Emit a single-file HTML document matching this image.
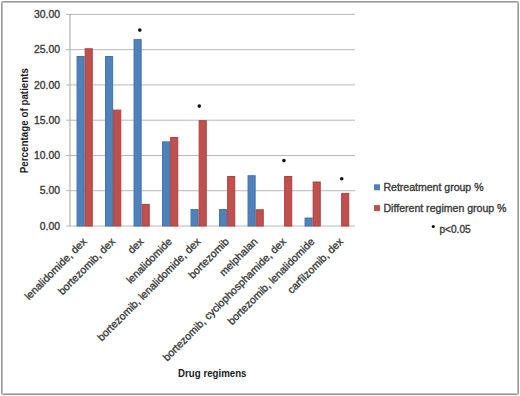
<!DOCTYPE html>
<html><head><meta charset="utf-8"><style>
html,body{margin:0;padding:0;background:#fff;width:520px;height:396px;overflow:hidden}
svg{display:block;font-family:"Liberation Sans",sans-serif}
text{stroke:currentColor;stroke-width:0.35px}
</style></head><body>
<svg width="520" height="396" viewBox="0 0 520 396">
<rect width="520" height="396" fill="#fff"/>
<line x1="70.0" y1="190.73" x2="355" y2="190.73" stroke="#b8b8b8" stroke-width="1"/>
<line x1="70.0" y1="155.47" x2="355" y2="155.47" stroke="#b8b8b8" stroke-width="1"/>
<line x1="70.0" y1="120.20" x2="355" y2="120.20" stroke="#b8b8b8" stroke-width="1"/>
<line x1="70.0" y1="84.93" x2="355" y2="84.93" stroke="#b8b8b8" stroke-width="1"/>
<line x1="70.0" y1="49.67" x2="355" y2="49.67" stroke="#b8b8b8" stroke-width="1"/>
<line x1="70.0" y1="14.40" x2="355" y2="14.40" stroke="#b8b8b8" stroke-width="1"/>
<line x1="70.0" y1="14" x2="70.0" y2="226.5" stroke="#a4a4a4" stroke-width="1"/>
<line x1="70.0" y1="226.0" x2="355" y2="226.0" stroke="#b8b8b8" stroke-width="1"/>
<line x1="66" y1="226.00" x2="70.0" y2="226.00" stroke="#b8b8b8" stroke-width="1"/>
<line x1="66" y1="190.73" x2="70.0" y2="190.73" stroke="#b8b8b8" stroke-width="1"/>
<line x1="66" y1="155.47" x2="70.0" y2="155.47" stroke="#b8b8b8" stroke-width="1"/>
<line x1="66" y1="120.20" x2="70.0" y2="120.20" stroke="#b8b8b8" stroke-width="1"/>
<line x1="66" y1="84.93" x2="70.0" y2="84.93" stroke="#b8b8b8" stroke-width="1"/>
<line x1="66" y1="49.67" x2="70.0" y2="49.67" stroke="#b8b8b8" stroke-width="1"/>
<line x1="66" y1="14.40" x2="70.0" y2="14.40" stroke="#b8b8b8" stroke-width="1"/>
<rect x="77.05" y="56.51" width="7.10" height="169.49" fill="#4F81BD" stroke="#4472a8" stroke-width="1"/>
<rect x="85.15" y="48.76" width="7.10" height="177.24" fill="#C0504D" stroke="#a8423f" stroke-width="1"/>
<rect x="105.55" y="56.51" width="7.10" height="169.49" fill="#4F81BD" stroke="#4472a8" stroke-width="1"/>
<rect x="113.65" y="110.12" width="7.10" height="115.88" fill="#C0504D" stroke="#a8423f" stroke-width="1"/>
<rect x="134.05" y="39.59" width="7.10" height="186.41" fill="#4F81BD" stroke="#4472a8" stroke-width="1"/>
<rect x="142.15" y="204.35" width="7.10" height="21.65" fill="#C0504D" stroke="#a8423f" stroke-width="1"/>
<rect x="162.55" y="141.86" width="7.10" height="84.14" fill="#4F81BD" stroke="#4472a8" stroke-width="1"/>
<rect x="170.65" y="137.49" width="7.10" height="88.51" fill="#C0504D" stroke="#a8423f" stroke-width="1"/>
<rect x="191.05" y="209.57" width="7.10" height="16.43" fill="#4F81BD" stroke="#4472a8" stroke-width="1"/>
<rect x="199.15" y="120.70" width="7.10" height="105.30" fill="#C0504D" stroke="#a8423f" stroke-width="1"/>
<rect x="219.55" y="209.57" width="7.10" height="16.43" fill="#4F81BD" stroke="#4472a8" stroke-width="1"/>
<rect x="227.65" y="176.56" width="7.10" height="49.44" fill="#C0504D" stroke="#a8423f" stroke-width="1"/>
<rect x="248.05" y="175.72" width="7.10" height="50.28" fill="#4F81BD" stroke="#4472a8" stroke-width="1"/>
<rect x="256.15" y="209.78" width="7.10" height="16.22" fill="#C0504D" stroke="#a8423f" stroke-width="1"/>
<rect x="284.65" y="176.56" width="7.10" height="49.44" fill="#C0504D" stroke="#a8423f" stroke-width="1"/>
<rect x="305.05" y="218.04" width="7.10" height="7.96" fill="#4F81BD" stroke="#4472a8" stroke-width="1"/>
<rect x="313.15" y="181.99" width="7.10" height="44.01" fill="#C0504D" stroke="#a8423f" stroke-width="1"/>
<rect x="341.65" y="193.42" width="7.10" height="32.58" fill="#C0504D" stroke="#a8423f" stroke-width="1"/>
<text x="60" y="229.70" text-anchor="end" font-size="10.4" fill="#3a3a3a" color="#3a3a3a">0.00</text>
<text x="60" y="194.43" text-anchor="end" font-size="10.4" fill="#3a3a3a" color="#3a3a3a">5.00</text>
<text x="60" y="159.17" text-anchor="end" font-size="10.4" fill="#3a3a3a" color="#3a3a3a">10.00</text>
<text x="60" y="123.90" text-anchor="end" font-size="10.4" fill="#3a3a3a" color="#3a3a3a">15.00</text>
<text x="60" y="88.63" text-anchor="end" font-size="10.4" fill="#3a3a3a" color="#3a3a3a">20.00</text>
<text x="60" y="53.37" text-anchor="end" font-size="10.4" fill="#3a3a3a" color="#3a3a3a">25.00</text>
<text x="60" y="18.10" text-anchor="end" font-size="10.4" fill="#3a3a3a" color="#3a3a3a">30.00</text>
<text transform="translate(82.25,237.30) rotate(-45)" x="0" y="0" text-anchor="end" font-size="10.6" fill="#3a3a3a" color="#3a3a3a" dy="7">lenalidomide, dex</text>
<text transform="translate(110.75,237.30) rotate(-45)" x="0" y="0" text-anchor="end" font-size="10.6" fill="#3a3a3a" color="#3a3a3a" dy="7">bortezomib, dex</text>
<text transform="translate(139.25,237.30) rotate(-45)" x="0" y="0" text-anchor="end" font-size="10.6" fill="#3a3a3a" color="#3a3a3a" dy="7">dex</text>
<text transform="translate(167.75,237.30) rotate(-45)" x="0" y="0" text-anchor="end" font-size="10.6" fill="#3a3a3a" color="#3a3a3a" dy="7">lenalidomide</text>
<text transform="translate(196.25,237.30) rotate(-45)" x="0" y="0" text-anchor="end" font-size="10.6" fill="#3a3a3a" color="#3a3a3a" dy="7">bortezomib, lenalidomide, dex</text>
<text transform="translate(224.75,237.30) rotate(-45)" x="0" y="0" text-anchor="end" font-size="10.6" fill="#3a3a3a" color="#3a3a3a" dy="7">bortezomib</text>
<text transform="translate(253.25,237.30) rotate(-45)" x="0" y="0" text-anchor="end" font-size="10.6" fill="#3a3a3a" color="#3a3a3a" dy="7">melphalan</text>
<text transform="translate(281.75,237.30) rotate(-45)" x="0" y="0" text-anchor="end" font-size="10.6" fill="#3a3a3a" color="#3a3a3a" dy="7">bortezomib, cyclophosphamide, dex</text>
<text transform="translate(310.25,237.30) rotate(-45)" x="0" y="0" text-anchor="end" font-size="10.6" fill="#3a3a3a" color="#3a3a3a" dy="7">bortezomib, lenalidomide</text>
<text transform="translate(338.75,237.30) rotate(-45)" x="0" y="0" text-anchor="end" font-size="10.6" fill="#3a3a3a" color="#3a3a3a" dy="7">carfilzomib, dex</text>
<circle cx="139.8" cy="30.1" r="1.8" fill="#111" color="#111"/>
<circle cx="199.3" cy="106.1" r="1.8" fill="#111" color="#111"/>
<circle cx="283.9" cy="160.6" r="1.8" fill="#111" color="#111"/>
<circle cx="341.7" cy="178.75" r="1.8" fill="#111" color="#111"/>
<text transform="translate(27.7,120.6) rotate(-90)" text-anchor="middle" font-size="10.3" font-weight="bold" fill="#1a1a1a" style="stroke:none" textLength="105.3" lengthAdjust="spacingAndGlyphs">Percentage of patients</text>
<text x="212.3" y="377.2" text-anchor="middle" font-size="10.1" font-weight="bold" fill="#1a1a1a" style="stroke:none" textLength="68.4" lengthAdjust="spacingAndGlyphs">Drug regimens</text>
<rect x="374" y="184.3" width="6" height="6" fill="#4F81BD"/>
<rect x="374" y="205.1" width="6" height="6" fill="#C0504D"/>
<text x="383.5" y="190.7" font-size="10.4" fill="#3a3a3a" color="#3a3a3a" textLength="100" lengthAdjust="spacingAndGlyphs">Retreatment group %</text>
<text x="383.5" y="211.5" font-size="10.4" fill="#3a3a3a" color="#3a3a3a" textLength="123" lengthAdjust="spacingAndGlyphs">Different regimen group %</text>
<circle cx="433.3" cy="226.5" r="1.6" fill="#111" color="#111"/>
<text x="439.4" y="232.9" font-size="10.4" fill="#3a3a3a" color="#3a3a3a" textLength="31.3" lengthAdjust="spacingAndGlyphs">p&lt;0.05</text>
<rect x="2.5" y="2.5" width="515" height="391" fill="none" stroke="#c2c2c2" stroke-width="1"/>
<rect x="1.5" y="1.5" width="517" height="393" rx="1" fill="none" stroke="#979797" stroke-width="1"/>
</svg>
</body></html>
